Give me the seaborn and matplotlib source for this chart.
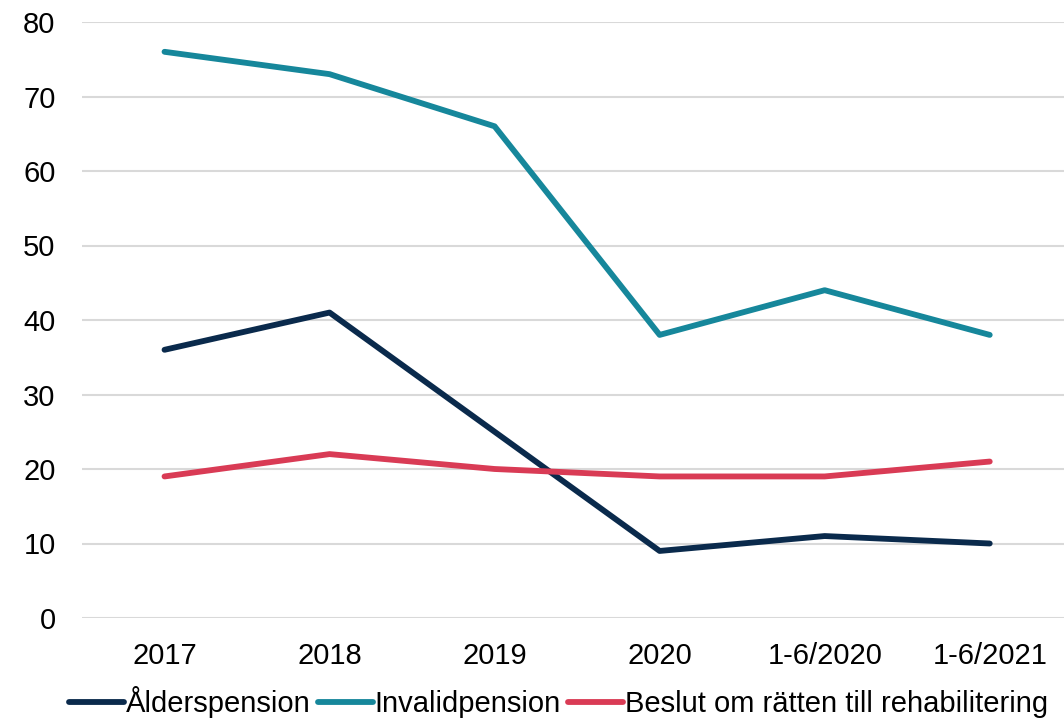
import pandas as pd
import matplotlib.pyplot as plt
import seaborn as sns

years = ["2017", "2018", "2019", "2020", "1-6/2020", "1-6/2021"]
alderspension = [36, 41, 25, 9, 11, 10]
invalidpension = [76, 73, 66, 38, 44, 38]
rehabilitering = [19, 22, 20, 19, 19, 21]

series_names = ["Ålderspension", "Invalidpension", "Beslut om rätten till rehabilitering"]
colors = ["#0A2A4C", "#16879B", "#D93B55"]

df = pd.DataFrame({
    "År": years * 3,
    "Antal": alderspension + invalidpension + rehabilitering,
    "Serie": [n for n in series_names for _ in years],
})

sns.set_theme(style="white")
plt.rcParams["font.family"] = ["Liberation Sans", "DejaVu Sans"]

fig = plt.figure(figsize=(10.64, 7.21), dpi=100)
ax = fig.add_axes([82 / 1064, 1 - 618 / 721, 1 - 82 / 1064, (618 - 22) / 721])

sns.lineplot(data=df, x="År", y="Antal", hue="Serie", palette=colors,
             linewidth=4.2, sort=False, ax=ax, solid_capstyle="round")

ax.set_ylim(0, 80)
ax.set_xlim(-0.5, 5.45)
ax.set_yticks(range(0, 81, 10))
ax.yaxis.grid(True, color="#D9D9D9", linewidth=1.5)
ax.set_axisbelow(True)
for s in ax.spines.values():
    s.set_visible(False)
ax.tick_params(axis="both", labelsize=21, colors="black", length=0)
ax.tick_params(axis="x", pad=17)
ax.tick_params(axis="y", pad=19)
ax.set_xlabel("")
ax.set_ylabel("")

handles, labels = ax.get_legend_handles_labels()
leg = ax.legend(handles, labels, loc="lower center", bbox_to_anchor=(0.485, -0.212),
                ncol=3, frameon=False, fontsize=21, handlelength=1.9, handletextpad=0.05,
                columnspacing=0.25, labelcolor="black")
for h in leg.get_lines():
    h.set_linewidth(4.2)

fig.savefig("out.png", dpi=100)
